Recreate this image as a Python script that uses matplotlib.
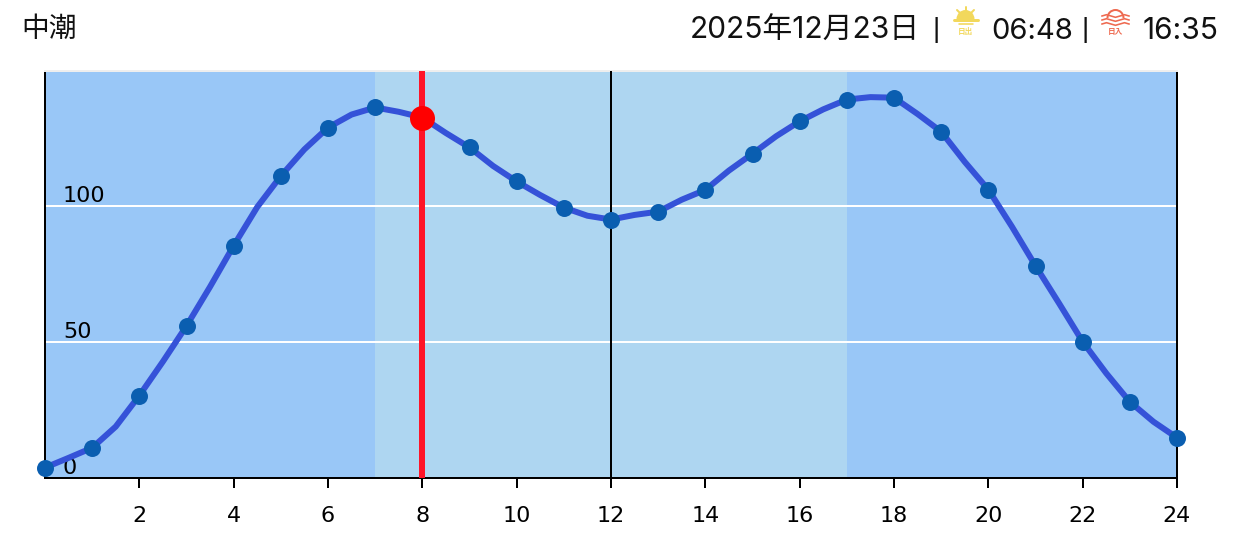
import matplotlib
matplotlib.use("Agg")
import matplotlib.pyplot as plt
from matplotlib.patches import Arc, Wedge
from matplotlib.transforms import ScaledTranslation

W, H = 1245, 557

# Tide level at each half hour
line_hours = [0, .5, 1, 1.5, 2, 2.5, 3, 3.5, 4, 4.5, 5, 5.5, 6, 6.5, 7, 7.5, 8, 8.5, 9, 9.5, 10, 10.5, 11, 11.5, 12,
              12.5, 13, 13.5, 14, 14.5, 15, 15.5, 16, 16.5, 17, 17.5, 18, 18.5, 19, 19.5, 20, 20.5, 21, 21.5, 22, 22.5, 23, 23.5, 24]
line_values = [3.8, 7.4, 11.1, 18.9, 30.3, 42.8, 55.9, 70.3, 85.4, 99.6, 111, 120.8, 128.8, 133.6, 136.2, 134.6, 132.5, 126.8, 121.5, 114.7, 109, 104, 99.4, 96.4, 95,
               96.7, 97.9, 102.3, 105.9, 113, 119.2, 125.6, 131.1, 135.5, 139.1, 140, 139.8, 133.8, 127.3, 116.2, 106, 92.4, 78, 64.2, 50.1, 38.5, 28, 20.7, 14.8]
marker_hours = list(range(25))
marker_values = [3.8, 11.1, 30.3, 55.9, 85.4, 111, 128.8, 136.2, 132.5, 121.5, 109, 99.4, 95,
                 97.9, 105.9, 119.2, 131.1, 139.1, 139.8, 127.3, 106, 78, 50.1, 28, 14.8]
x_ticks = list(range(2, 25, 2))
y_ticks = [0, 50, 100]
sunrise_hour, sunset_hour = 7, 17
now_hour, now_value = 8, 132.5
noon_hour = 12
title_left = "中潮"
date_label = "2025年12月23日"
sunrise_label = "06:48"
sunset_label = "16:35"

fig = plt.figure(figsize=(W / 100, H / 100), dpi=100, facecolor="white")
px = 72 / 100  # points per pixel
ax = fig.add_axes([45 / W, 1 - 478 / H, (1177 - 45) / W, (478 - 71) / H])
ax.set_xlim(0, 24)
ax.set_ylim(0, 149.6)
ax.set_facecolor("#99C7F7")
ax.axvspan(sunrise_hour, sunset_hour, color="#AED6F1", lw=0, zorder=1)
ax.hlines([50, 100], 0, 24, color="white", lw=2 * px, zorder=2)
ax.axvline(noon_hour, color="black", lw=2 * px, zorder=3)
ax.axvline(now_hour, color="#FF1428", lw=6 * px, zorder=3)
ax.plot(line_hours, line_values, color="#3552D8", lw=6 * px, solid_joinstyle="round", zorder=4, clip_on=False)
ax.plot(marker_hours, marker_values, ls="none", marker="o", ms=17 * px, mfc="#0A5EB0", mec="none", zorder=5, clip_on=False)
ax.plot([now_hour], [now_value], ls="none", marker="o", ms=25 * px, mfc="#FF0000", mec="none", zorder=6)

for s in ("left", "bottom", "right"):
    ax.spines[s].set_color("black")
    ax.spines[s].set_linewidth(2 * px)
ax.spines["top"].set_color("#EEEEEE")
ax.spines["top"].set_linewidth(2 * px)

ax.set_xticks(x_ticks)
ax.set_xticklabels([str(t) for t in x_ticks])
ax.tick_params(axis="x", length=10 * px, width=2 * px, labelsize=16, pad=18 * px, colors="black")
ax.set_yticks(y_ticks)
ax.set_yticklabels([str(t) for t in y_ticks])
ax.tick_params(axis="y", length=0, labelsize=16, pad=-18 * px)
offset = ScaledTranslation(0, 4 / 100, fig.dpi_scale_trans)
for lab in ax.get_yticklabels():
    lab.set_ha("left")
    lab.set_va("baseline")
    lab.set_transform(lab.get_transform() + offset)

# Header overlay in pixel coordinates
ov = fig.add_axes([0, 0, 1, 1], zorder=10)
ov.set_xlim(0, W)
ov.set_ylim(H, 0)
ov.axis("off")
ov.patch.set_alpha(0)
cjk = ["Inter", "Noto Sans CJK JP"]
ink = "#111111"
ov.text(21, 37, title_left, family=["Noto Sans CJK JP"], fontsize=20, color=ink, ha="left", va="baseline")
ov.text(920, 39, date_label, family=cjk, fontsize=21.5, color=ink, ha="right", va="baseline")
ov.text(936, 37, "|", family=["Liberation Sans"], fontsize=20, color=ink, ha="center", va="baseline")
ov.text(991, 39, sunrise_label, family=cjk, fontsize=21, color=ink, ha="left", va="baseline")
ov.text(1085, 37, "|", family=["Liberation Sans"], fontsize=20, color=ink, ha="center", va="baseline")
ov.text(1143, 39, sunset_label, family=cjk, fontsize=21.5, color=ink, ha="left", va="baseline")

# Sunrise icon
yel = "#F2D85C"
ov.add_patch(Wedge((965.5, 19), 9, 180, 360, fc=yel, ec="none"))
ov.plot([954, 977.5], [19.5, 19.5], color=yel, lw=3 * px, solid_capstyle="round")
ov.plot([958.5, 973], [23.5, 23.5], color=yel, lw=1.6 * px, solid_capstyle="round")
for xs, ys in (([965.5, 965.5], [7, 11]), ([957, 959.5], [10, 12.5]), ([974, 971.5], [10, 12.5])):
    ov.plot(xs, ys, color=yel, lw=2 * px, solid_capstyle="round")
ov.text(965.5, 31.5, "日出", family=["Noto Sans CJK JP"], fontsize=5.5, weight="bold", color=yel, ha="center", va="center")

# Sunset icon
red = "#EE6A50"
ov.add_patch(Arc((1115.5, 18), 16, 16, theta1=180, theta2=360, ec=red, lw=2 * px))
wave_x = [1102, 1106.5, 1111, 1115.5, 1120, 1124.5, 1129]
for y in (16, 20, 24):
    wave_y = [y, y - 1.3, y, y + 1.3, y, y - 1.3, y]
    ov.plot(wave_x, wave_y, color=red, lw=1.6 * px)
ov.text(1115.5, 31.5, "日入", family=["Noto Sans CJK JP"], fontsize=5.5, weight="bold", color=red, ha="center", va="center")

fig.savefig("out.png", dpi=100)
